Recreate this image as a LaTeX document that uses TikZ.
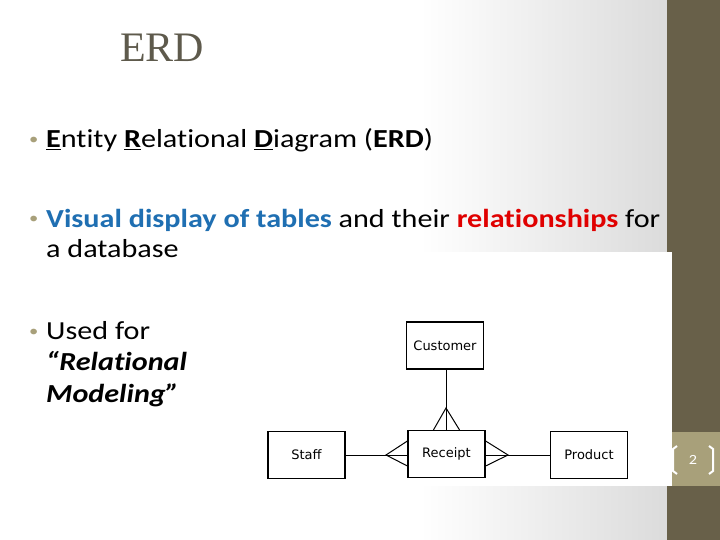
\documentclass[tikz,border=0pt]{standalone}
\usepackage{fontspec}
\setmainfont{Carlito}[Ligatures=NoCommon, FakeStretch=1.16]
\newfontfamily\titlefont{Liberation Serif}
\newfontfamily\diafont{DejaVu Sans}
\usetikzlibrary{positioning}
\definecolor{barbrown}{HTML}{686049}
\definecolor{tabbrown}{HTML}{A8A07A}
\definecolor{titlegray}{HTML}{5E5A4C}
\definecolor{keyblue}{HTML}{1F6FB2}
\definecolor{keyred}{HTML}{E00000}
\tikzset{
  entity/.style={draw, line width=1.2pt, fill=white, minimum width=77pt, minimum height=47pt, font=\diafont\fontsize{13}{15}\selectfont},
  rel/.style={line width=1pt},
  bullet/.style={anchor=base west, font=\fontsize{26}{30}\selectfont, inner sep=0pt},
  dot/.style={anchor=base west, font=\fontsize{16}{20}\selectfont, inner sep=0pt, text=tabbrown}
}
\begin{document}
\begin{tikzpicture}[x=1pt,y=-1pt]
\useasboundingbox (0,0) rectangle (720,540);
% Hintergrund
\fill[white] (0,0) rectangle (420,540);
\shade[left color=white, right color=black!14] (420,0) rectangle (667,540);
\fill[barbrown] (667,0) rectangle (720,540);
\fill[tabbrown] (667,432) rectangle (720,486);
\fill[white] (265,252) rectangle (672,486);
% Titel
\node[anchor=base west, inner sep=0pt, text=titlegray, font=\titlefont\fontsize{42}{48}\selectfont] (title) at (120,62) {ERD};
% Punkte
\node[dot] (b1) at (29,145) {\textbullet};
\node[bullet] (t1) at (46,148) {\underline{\textbf{E}}ntity \underline{\textbf{R}}elational \underline{\textbf{D}}iagram (\textbf{ERD})};
\node[dot] (b2) at (29,224) {\textbullet};
\node[bullet] (t2) at (46,227) {\textcolor{keyblue}{\textbf{Visual display of tables}} and their \textcolor{keyred}{\textbf{relationships}} for};
\node[bullet] (t2b) at (46,258) {a database};
\node[dot] (b3) at (29,336) {\textbullet};
\node[bullet] (t3) at (46,339) {Used for};
\node[bullet] (t3b) at (46,370) {\textbf{\textit{``Relational}}};
\node[bullet] (t3c) at (46,402) {\textbf{\textit{Modeling''}}};
% Diagramm
\node[entity] (customer) at (445,345.5) {Customer};
\node[entity] (receipt) at (446.5,454) {Receipt};
\node[entity] (staff) at (306.5,455) {Staff};
\node[entity] (product) at (589,455) {Product};
\coordinate (cfoot) at (446,408);
\coordinate (sfoot) at (386,455);
\coordinate (pfoot) at (508,455);
\draw[rel] (customer.south -| receipt.north) -- (receipt.north);
\draw[rel] ([xshift=-13pt]receipt.north) -- (cfoot) -- ([xshift=13pt]receipt.north);
\draw[rel] (staff.east) -- (staff.east -| receipt.west);
\draw[rel] ([yshift=-12pt]receipt.west) -- (sfoot) -- ([yshift=13pt]receipt.west);
\draw[rel] (product.west) -- (product.west -| receipt.east);
\draw[rel] ([yshift=-12pt]receipt.east) -- (pfoot) -- ([yshift=13pt]receipt.east);
% Seitenzahl
\node[text=white, font=\fontsize{14}{16}\selectfont] (page) at (693,460) {2};
\draw[white, line width=2pt] (677,446) -- (673,449) -- (673,471) -- (677,474);
\draw[white, line width=2pt] (709,446) -- (713,449) -- (713,471) -- (709,474);
\end{tikzpicture}
\end{document}
